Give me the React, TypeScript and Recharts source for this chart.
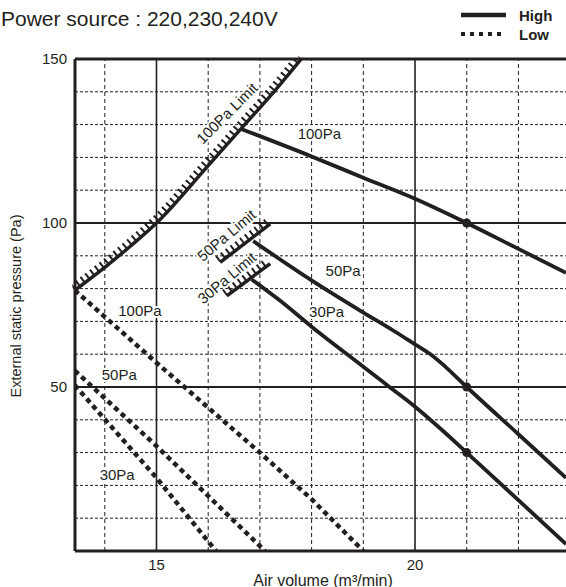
import { Line, LineChart, ReferenceDot, ReferenceLine, XAxis, YAxis } from "recharts";

const ink = "#231f20";
const font = '"Liberation Sans", Arial, Helvetica, sans-serif';

// High tap (solid)
const high100X = [16.65, 18, 19, 20, 21, 22, 22.92];
const high100Y = [128.6, 120.3, 113.8, 107.4, 100, 92.1, 84.8];
const high50X = [16.87, 18, 19, 19.6, 20, 20.3, 20.6, 21, 22, 22.92];
const high50Y = [94.5, 82.5, 72.7, 67, 63, 60, 56, 50, 35.6, 22.3];
const high30X = [16.84, 17.4, 18, 19, 19.5, 20, 20.5, 21, 22, 22.92];
const high30Y = [82.8, 76.2, 68.4, 56.2, 50.1, 44, 37.2, 30, 15.5, 2.1];

// limits (hatched)
const limit100X = [13.42, 14, 14.5, 15, 16, 16.65, 17.3, 17.8];
const limit100Y = [79.5, 86.5, 93, 100, 117.5, 129, 140.5, 150];
const limit50X = [16.23, 17.2];
const limit50Y = [88, 99.7];
const limit30X = [16.36, 17.2];
const limit30Y = [77.8, 87.6];

// Low tap (dotted)
const low100X = [13.42, 15, 17, 18, 19];
const low100Y = [79.5, 57.4, 30, 15.8, 0];
const low50X = [13.42, 15, 16, 17.1];
const low50Y = [55, 32, 16.8, 0];
const low30X = [13.42, 15, 16.15];
const low30Y = [50.5, 22.3, 0];

const ratedX = 21;

const xTicks = [15, 20];
const xMinor = [14, 16, 17, 18, 19, 21, 22];
const yTicks = [50, 100, 150];
const yMinor = [10, 20, 30, 40, 60, 70, 80, 90, 110, 120, 130, 140];

const zip = (xs: number[], ys: number[]) => xs.map((x, i) => ({ x, y: ys[i] }));

const notes = [
  { text: "100Pa Limit", x: 16.36, y: 133.5, angle: -45 },
  { text: "50Pa Limit", x: 16.35, y: 96.3, angle: -40 },
  { text: "30Pa Limit", x: 16.36, y: 83.3, angle: -40 },
  { text: "100Pa", x: 18.15, y: 127.2, angle: 0 },
  { text: "50Pa", x: 18.61, y: 85.4, angle: 0 },
  { text: "30Pa", x: 18.29, y: 72.9, angle: 0 },
  { text: "100Pa", x: 14.68, y: 73.4, angle: 0 },
  { text: "50Pa", x: 14.28, y: 53.7, angle: 0 },
  { text: "30Pa", x: 14.24, y: 23.4, angle: 0 },
];

const ratedDot = (p: any) =>
  p.payload && p.payload.x === ratedX ? (
    <circle key={p.index} cx={p.cx} cy={p.cy} r={4.5} fill={ink} />
  ) : (
    <g key={p.index} />
  );

const noteShape = (text: string, angle: number) => (p: any) => (
  <text
    x={p.cx}
    y={p.cy}
    textAnchor="middle"
    dominantBaseline="central"
    transform={`rotate(${angle} ${p.cx} ${p.cy})`}
    fontSize={15}
    fontFamily={font}
    fill={ink}
    stroke="#fff"
    strokeWidth={4}
    paintOrder="stroke"
  >
    {text}
  </text>
);

export default function App() {
  const highs = [zip(high100X, high100Y), zip(high50X, high50Y), zip(high30X, high30Y)];
  const lows = [zip(low100X, low100Y), zip(low50X, low50Y), zip(low30X, low30Y)];
  const limits = [zip(limit100X, limit100Y), zip(limit50X, limit50Y), zip(limit30X, limit30Y)];

  return (
    <div style={{ position: "absolute", left: 0, top: 0, width: 566, height: 587, background: "#fff", fontFamily: font }}>
      <style>{`.hatch-up { transform: translate(-2.6px, -2.8px); }`}</style>
      <LineChart width={566} height={587} margin={{ top: 59, right: 0, left: 0, bottom: 0 }}>
        <XAxis
          type="number"
          dataKey="x"
          domain={[13.424, 22.92]}
          allowDataOverflow
          ticks={xTicks}
          tickLine={false}
          axisLine={{ stroke: ink, strokeWidth: 3 }}
          tick={{ fill: ink, fontSize: 15, fontFamily: font }}
          height={36}
        />
        <YAxis
          type="number"
          dataKey="y"
          domain={[0, 150]}
          allowDataOverflow
          ticks={yTicks}
          tickLine={false}
          axisLine={{ stroke: ink, strokeWidth: 3 }}
          tick={{ fill: ink, fontSize: 15, fontFamily: font }}
          width={75}
        />
        {xMinor.map((v) => (
          <ReferenceLine key={"xm" + v} x={v} stroke={ink} strokeWidth={1} strokeDasharray="4 3" />
        ))}
        {yMinor.map((v) => (
          <ReferenceLine key={"ym" + v} y={v} stroke={ink} strokeWidth={1} strokeDasharray="3 2" />
        ))}
        {xTicks.map((v) => (
          <ReferenceLine key={"xM" + v} x={v} stroke={ink} strokeWidth={1.6} />
        ))}
        {yTicks.map((v) => (
          <ReferenceLine key={"yM" + v} y={v} stroke={ink} strokeWidth={v === 150 ? 3 : 2} />
        ))}

        {limits.map((d, i) => (
          <Line
            key={"lh" + i}
            data={d}
            dataKey="y"
            type={i === 0 ? "monotone" : "linear"}
            className="hatch-up"
            stroke={ink}
            strokeWidth={7}
            strokeDasharray="2 4"
            dot={false}
            activeDot={false}
            isAnimationActive={false}
          />
        ))}
        {limits.map((d, i) => (
          <Line
            key={"l" + i}
            data={d}
            dataKey="y"
            type={i === 0 ? "monotone" : "linear"}
            stroke={ink}
            strokeWidth={3.5}
            dot={false}
            activeDot={false}
            isAnimationActive={false}
          />
        ))}
        {lows.map((d, i) => (
          <Line
            key={"lo" + i}
            data={d}
            dataKey="y"
            type="linear"
            stroke={ink}
            strokeWidth={4.5}
            strokeDasharray="5 4"
            dot={false}
            activeDot={false}
            isAnimationActive={false}
          />
        ))}
        {highs.map((d, i) => (
          <Line
            key={"hi" + i}
            data={d}
            dataKey="y"
            type="monotone"
            stroke={ink}
            strokeWidth={3.8}
            dot={ratedDot}
            activeDot={false}
            isAnimationActive={false}
          />
        ))}
        {notes.map((n, i) => (
          <ReferenceDot key={"n" + i} x={n.x} y={n.y} r={1} shape={noteShape(n.text, n.angle)} />
        ))}
      </LineChart>

      <svg width={566} height={587} style={{ position: "absolute", left: 0, top: 0, pointerEvents: "none" }}>
        <text x={1} y={26} fontSize={21} fontFamily={font} fill={ink}>
          Power source : 220,230,240V
        </text>
        <line x1={461} x2={506} y1={15} y2={15} stroke={ink} strokeWidth={4.5} />
        <line x1={461} x2={506} y1={34} y2={34} stroke={ink} strokeWidth={4} strokeDasharray="4 5" />
        <text x={519} y={15} dominantBaseline="central" fontSize={15} fontWeight="bold" fontFamily={font} fill={ink}>
          High
        </text>
        <text x={519} y={34} dominantBaseline="central" fontSize={15} fontWeight="bold" fontFamily={font} fill={ink}>
          Low
        </text>
        <text
          x={16}
          y={306}
          textAnchor="middle"
          dominantBaseline="central"
          transform="rotate(-90 16 306)"
          fontSize={14.5}
          fontFamily={font}
          fill={ink}
        >
          External static pressure (Pa)
        </text>
        <text x={323} y={580} textAnchor="middle" dominantBaseline="central" fontSize={16} fontFamily={font} fill={ink}>
          Air volume (m³/min)
        </text>
      </svg>
    </div>
  );
}
